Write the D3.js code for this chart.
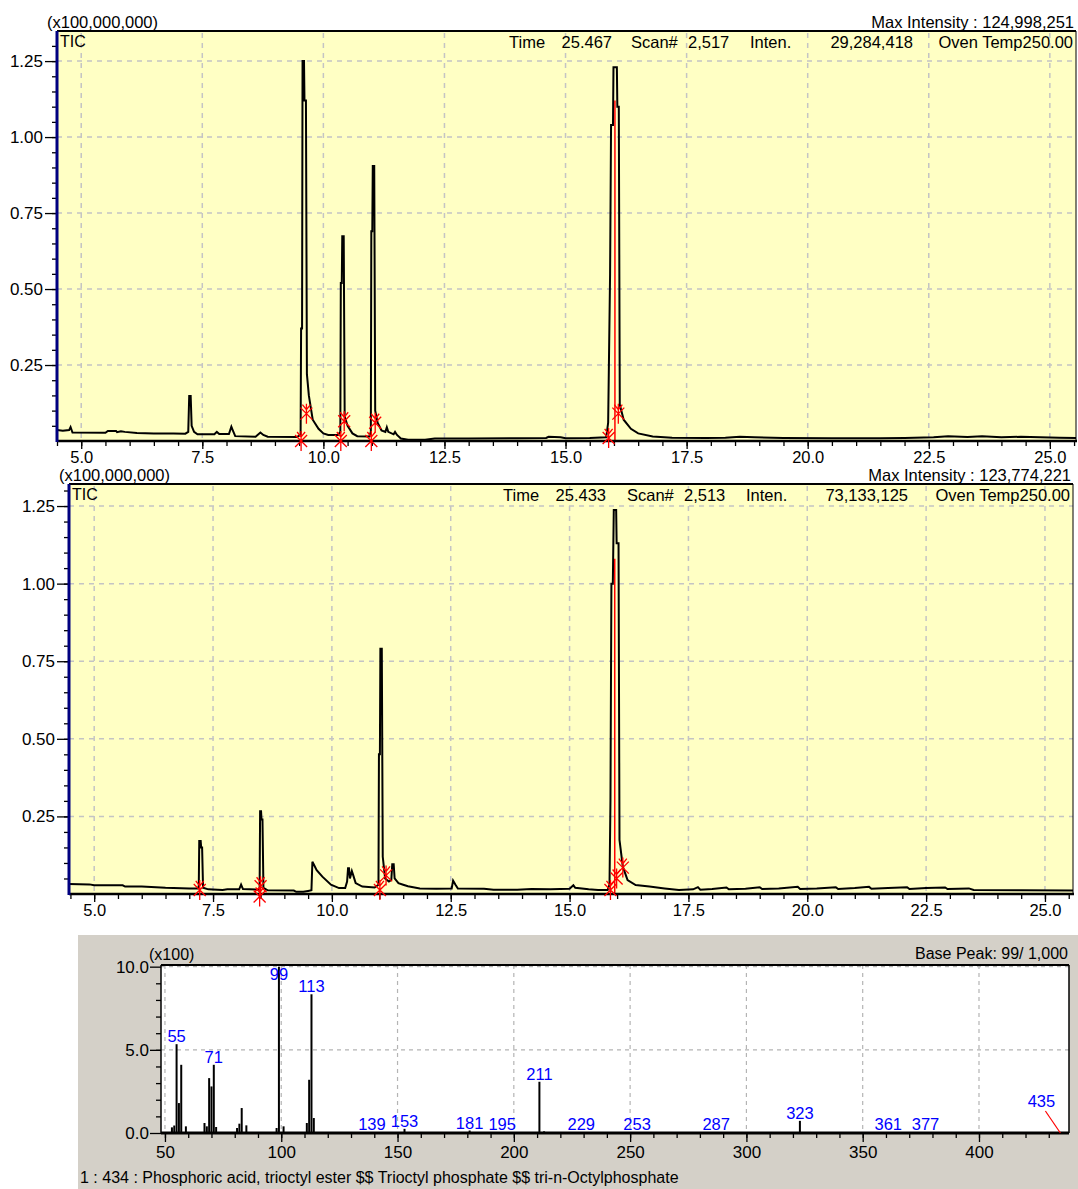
<!DOCTYPE html>
<html>
<head>
<meta charset="utf-8">
<script src="https://cdn.jsdelivr.net/npm/d3@7"></script>
<style>
  body { margin: 0; background: #fff; }
  svg text { font-family: "Liberation Sans", Arial, sans-serif; }
</style>
</head>
<body>
<script>
// ---- chromatogram 1 (time min, intensity x1e8)
const tic1 = [
  [4.50,0.036],[4.62,0.034],[4.75,0.036],[4.78,0.046],[4.82,0.028],[5.50,0.027],[5.55,0.033],[5.72,0.033],
  [5.74,0.029],[5.82,0.032],[5.90,0.030],[6.15,0.026],[6.50,0.025],[6.90,0.025],[7.15,0.024],[7.21,0.030],
  [7.23,0.148],[7.26,0.148],[7.28,0.05],[7.33,0.03],[7.40,0.022],[7.75,0.022],[7.80,0.030],[7.85,0.023],
  [8.05,0.023],[8.10,0.047],[8.13,0.035],[8.18,0.016],[8.60,0.014],[8.70,0.028],[8.76,0.02],[8.85,0.014],
  [9.45,0.013],[9.53,0.020],[9.54,0.37],[9.56,0.37],[9.57,1.25],[9.60,1.25],[9.61,1.12],[9.64,1.12],
  [9.66,0.22],[9.70,0.15],[9.78,0.07],[9.90,0.04],[10.0,0.025],[10.10,0.02],[10.30,0.02],[10.35,0.03],
  [10.36,0.52],[10.38,0.52],[10.39,0.674],[10.42,0.674],[10.44,0.08],[10.50,0.05],[10.60,0.025],[10.70,0.016],
  [10.95,0.015],[10.98,0.03],[10.99,0.69],[11.01,0.69],[11.02,0.905],[11.05,0.905],[11.07,0.10],[11.12,0.06],
  [11.20,0.035],[11.28,0.03],[11.31,0.045],[11.34,0.03],[11.45,0.022],[11.48,0.03],[11.52,0.02],[11.60,0.008],
  [11.75,0.004],[12.1,0.004],[12.3,0.008],[13.0,0.008],[14.0,0.009],[14.6,0.01],[14.65,0.014],[14.9,0.012],
  [15.0,0.009],[15.5,0.01],[15.84,0.012],[15.88,0.06],[15.92,0.55],[15.94,1.04],[15.98,1.04],[15.99,1.23],
  [16.06,1.23],[16.07,1.10],[16.10,1.10],[16.12,0.12],[16.20,0.07],[16.35,0.04],[16.5,0.025],[16.8,0.015],
  [17.2,0.011],[17.9,0.010],[18.3,0.011],[18.6,0.014],[18.9,0.012],[19.5,0.010],[20.5,0.009],[21.5,0.009],
  [22.0,0.010],[22.6,0.012],[22.9,0.016],[23.3,0.013],[23.6,0.016],[24.0,0.012],[24.4,0.014],[24.8,0.012],
  [25.2,0.011],[25.54,0.010]
];
const marks1 = [[9.54,0.0],[9.65,0.09],[10.36,0.0],[10.43,0.065],[10.99,0.0],[11.07,0.06],[15.89,0.01],[16.09,0.09]];
const apex1 = [16.02, 1.12];
const info1 = ["Time","25.467","Scan#","2,517","Inten.","29,284,418","Oven Temp250.00"];
const maxInt1 = "Max Intensity : 124,998,251";

// ---- chromatogram 2
const tic2 = [
  [4.47,0.032],[4.9,0.031],[5.0,0.028],[5.6,0.028],[5.65,0.024],[6.0,0.024],[6.3,0.022],[6.5,0.02],
  [7.0,0.018],[7.18,0.018],[7.20,0.025],[7.21,0.171],[7.24,0.171],[7.25,0.15],[7.27,0.15],[7.29,0.02],
  [7.40,0.015],[7.70,0.013],[7.80,0.015],[8.05,0.015],[8.09,0.03],[8.13,0.016],[8.45,0.014],[8.48,0.02],
  [8.49,0.267],[8.51,0.267],[8.52,0.24],[8.54,0.24],[8.56,0.02],[8.65,0.012],[9.2,0.011],[9.25,0.007],
  [9.4,0.007],[9.5,0.01],[9.57,0.012],[9.59,0.104],[9.62,0.095],[9.68,0.077],[9.80,0.056],[9.98,0.03],
  [10.15,0.019],[10.28,0.019],[10.32,0.04],[10.34,0.083],[10.36,0.083],[10.38,0.05],[10.42,0.074],[10.45,0.06],
  [10.50,0.035],[10.64,0.024],[10.90,0.021],[10.98,0.03],[10.99,0.45],[11.01,0.45],[11.02,0.79],[11.05,0.79],
  [11.07,0.12],[11.12,0.05],[11.20,0.04],[11.25,0.045],[11.27,0.096],[11.30,0.096],[11.32,0.05],[11.40,0.035],
  [11.50,0.03],[11.6,0.025],[11.85,0.018],[12.2,0.017],[12.52,0.018],[12.55,0.043],[12.6,0.03],[12.65,0.018],
  [13.2,0.017],[13.4,0.014],[13.9,0.014],[14.2,0.016],[14.6,0.015],[15.0,0.017],[15.08,0.028],[15.12,0.02],
  [15.4,0.015],[15.6,0.013],[15.80,0.013],[15.84,0.03],[15.86,0.30],[15.88,1.0],[15.91,1.0],[15.93,1.237],
  [15.98,1.237],[15.99,1.13],[16.03,1.13],[16.05,0.174],[16.12,0.088],[16.22,0.045],[16.39,0.029],[16.68,0.024],
  [17.0,0.018],[17.3,0.013],[17.6,0.015],[17.7,0.022],[17.75,0.014],[18.0,0.016],[18.3,0.021],[18.35,0.015],
  [18.7,0.017],[19.0,0.022],[19.05,0.016],[19.4,0.018],[19.8,0.023],[19.85,0.016],[20.2,0.018],[20.6,0.022],
  [20.65,0.016],[21.0,0.019],[21.3,0.023],[21.35,0.017],[21.7,0.019],[22.1,0.022],[22.15,0.016],[22.5,0.019],
  [22.9,0.021],[22.95,0.016],[23.4,0.018],[23.5,0.013],[24.5,0.012],[25.59,0.011]
];
const marks2 = [[7.22,0.013],[8.50,0.025],[8.48,-0.008],[11.01,0.013],[11.14,0.06],[15.86,0.013],[15.99,0.05],[16.12,0.085]];
const apex2 = [15.95, 1.08];
const info2 = ["Time","25.433","Scan#","2,513","Inten.","73,133,125","Oven Temp250.00"];
const maxInt2 = "Max Intensity : 123,774,221";

const chromTicks = [5.0, 7.5, 10.0, 12.5, 15.0, 17.5, 20.0, 22.5, 25.0];
const chromYTicks = [0.25, 0.50, 0.75, 1.00, 1.25];

// ---- mass spectrum (m/z, relative intensity of 1000)
const msMz  = [53, 54, 55, 56, 57, 59, 67, 68, 69, 70, 71, 72, 81, 82, 83, 85, 98, 99, 101, 111, 112, 113, 114,
               139, 153, 181, 195, 211, 213, 229, 253, 287, 323, 361, 377];
const msInt = [34, 45, 534, 180, 410, 40, 60, 40, 330, 280, 410, 36, 30, 56, 150, 46, 30, 1000, 40, 60, 320, 834, 90,
               5, 25, 15, 6, 308, 10, 5, 5, 5, 73, 5, 5];
const msLabels = [55, 71, 99, 113, 139, 153, 181, 195, 211, 229, 253, 287, 323, 361, 377, 435];
const msXTicks = [50, 100, 150, 200, 250, 300, 350, 400];
const msYTicks = [0, 5, 10];
const compound = "1 : 434 : Phosphoric acid, trioctyl ester $$ Trioctyl phosphate $$ tri-n-Octylphosphate";
const basePeak = "Base Peak: 99/ 1,000";

const W = 1078, H = 1189;
const svg = d3.select("body").append("svg").attr("width", W).attr("height", H);

function marker(g, x, y) {
  const p = `M${x},${y-10}L${x},${y+10}M${x-6},${y-6}L${x+6},${y+6}M${x+6},${y-6}L${x-6},${y+6}M${x-4},${y-9}L${x},${y-4}L${x+4},${y-9}`;
  g.append("path").attr("d", p).attr("stroke", "#ff0000").attr("stroke-width", 1.3).attr("fill", "none");
}

function chrom(cfg) {
  const x = d3.scaleLinear().domain(cfg.xDomain).range([cfg.left, cfg.right]);
  const y = d3.scaleLinear().domain(cfg.yDomain).range([cfg.bottom, cfg.top]);
  const g = svg.append("g");

  g.append("rect").attr("x", cfg.left).attr("y", cfg.top)
    .attr("width", cfg.right - cfg.left).attr("height", cfg.bottom - cfg.top).attr("fill", "#ffffc4");

  // grid
  g.selectAll(null).data(chromTicks).enter().append("line")
    .attr("x1", d => x(d)).attr("x2", d => x(d)).attr("y1", cfg.top + 2).attr("y2", cfg.bottom)
    .attr("stroke", "#c4c4c4").attr("stroke-width", 1.5).attr("stroke-dasharray", "5,5");
  g.selectAll(null).data(chromYTicks).enter().append("line")
    .attr("x1", cfg.left).attr("x2", cfg.right).attr("y1", d => y(d)).attr("y2", d => y(d))
    .attr("stroke", "#c4c4c4").attr("stroke-width", 1.5).attr("stroke-dasharray", "5,5");

  // texts
  g.append("text").attr("x", cfg.left - 10).attr("y", cfg.top - 3).attr("font-size", 16.5).text("(x100,000,000)");
  g.append("text").attr("x", cfg.right - 2).attr("y", cfg.top - 3).attr("font-size", 16.5)
    .attr("text-anchor", "end").text(cfg.maxInt);
  g.append("text").attr("x", cfg.left + 3).attr("y", cfg.top + 16).attr("font-size", 16).text("TIC");
  cfg.info.forEach((s, i) => {
    const p = cfg.infoPos[i];
    g.append("text").attr("x", p[0]).attr("y", cfg.top + 17).attr("font-size", 16.5)
      .attr("text-anchor", p[1]).text(s);
  });

  // trace
  const clipId = "clip" + cfg.id;
  svg.append("clipPath").attr("id", clipId).append("rect")
    .attr("x", cfg.left).attr("y", cfg.top).attr("width", cfg.right - cfg.left).attr("height", cfg.bottom - cfg.top + 2);
  const line = d3.line().x(d => x(d[0])).y(d => y(d[1]));
  g.append("path").datum(cfg.trace).attr("d", line).attr("clip-path", `url(#${clipId})`)
    .attr("fill", "none").attr("stroke", "#000").attr("stroke-width", 2).attr("stroke-linejoin", "miter");
  g.append("line").attr("x1", x(cfg.apex[0])).attr("x2", x(cfg.apex[0]))
    .attr("y1", y(0)).attr("y2", y(cfg.apex[1])).attr("stroke", "#ff0000").attr("stroke-width", 1.5);

  // axes
  const minorX = d3.range(9, 52).map(i => i / 2).filter(d => d >= cfg.xDomain[0] && d <= cfg.xDomain[1]);
  g.append("g").attr("transform", `translate(0,${cfg.bottom})`)
    .call(d3.axisBottom(x).tickValues(minorX).tickSize(5).tickFormat(""))
    .call(a => a.select(".domain").remove());
  g.append("g").attr("transform", `translate(0,${cfg.bottom})`)
    .call(d3.axisBottom(x).tickValues(chromTicks).tickSize(8).tickPadding(2).tickFormat(d3.format(".1f")))
    .call(a => a.select(".domain").remove())
    .call(a => a.selectAll("text").attr("font-size", 16.5).attr("fill", "#000").attr("font-family", "Liberation Sans, Arial"));
  const minorY = d3.range(1, 27).map(i => i * 0.05);
  g.append("g").attr("transform", `translate(${cfg.left},0)`)
    .call(d3.axisLeft(y).tickValues(minorY).tickSize(5).tickFormat(""))
    .call(a => a.select(".domain").remove());
  g.append("g").attr("transform", `translate(${cfg.left},0)`)
    .call(d3.axisLeft(y).tickValues(chromYTicks).tickSize(12).tickPadding(2).tickFormat(d3.format(".2f")))
    .call(a => a.select(".domain").remove())
    .call(a => a.selectAll("text").attr("font-size", 17).attr("fill", "#000").attr("font-family", "Liberation Sans, Arial"));
  g.selectAll(".tick line").attr("stroke", "#000").attr("stroke-width", 1.3);

  // frame
  g.append("line").attr("x1", cfg.left).attr("x2", cfg.right).attr("y1", cfg.top).attr("y2", cfg.top)
    .attr("stroke", "#000").attr("stroke-width", 2);
  g.append("line").attr("x1", cfg.right).attr("x2", cfg.right).attr("y1", cfg.top).attr("y2", cfg.bottom)
    .attr("stroke", "#000").attr("stroke-width", 1);
  g.append("line").attr("x1", cfg.left).attr("x2", cfg.right + 1).attr("y1", cfg.bottom).attr("y2", cfg.bottom)
    .attr("stroke", "#000").attr("stroke-width", 2.5);
  g.append("line").attr("x1", cfg.left).attr("x2", cfg.left).attr("y1", cfg.top).attr("y2", cfg.bottom + 1)
    .attr("stroke", "#000080").attr("stroke-width", 3);

  cfg.marks.forEach(m => marker(g, x(m[0]), y(m[1])));
}

chrom({
  id: 1, left: 57, right: 1076, top: 31, bottom: 441, xDomain: [4.5, 25.54], yDomain: [0, 1.349],
  trace: tic1, marks: marks1, apex: apex1, info: info1, maxInt: maxInt1,
  infoPos: [[509,"start"],[612,"end"],[631,"start"],[688,"start"],[750,"start"],[913,"end"],[1073,"end"]]
});
chrom({
  id: 2, left: 69, right: 1073, top: 484, bottom: 894, xDomain: [4.47, 25.59], yDomain: [0, 1.321],
  trace: tic2, marks: marks2, apex: apex2, info: info2, maxInt: maxInt2,
  infoPos: [[503,"start"],[606,"end"],[627,"start"],[684,"start"],[746,"start"],[908,"end"],[1070,"end"]]
});

// ---- mass spectrum panel
const ms = { left: 161, right: 1069, top: 965, bottom: 1133 };
svg.append("rect").attr("x", 78).attr("y", 935).attr("width", W - 78).attr("height", H - 935).attr("fill", "#d4d0c8");
svg.append("rect").attr("x", ms.left).attr("y", ms.top).attr("width", ms.right - ms.left)
  .attr("height", ms.bottom - ms.top).attr("fill", "#fff");
const mx = d3.scaleLinear().domain([48.3, 438.7]).range([ms.left, ms.right]);
const my = d3.scaleLinear().domain([0, 10.1]).range([ms.bottom, ms.top]);
const mg = svg.append("g");

mg.selectAll(null).data(msXTicks).enter().append("line")
  .attr("x1", d => mx(d)).attr("x2", d => mx(d)).attr("y1", ms.top).attr("y2", ms.bottom)
  .attr("stroke", "#b4b4b4").attr("stroke-width", 1.2).attr("stroke-dasharray", "4,4");
mg.selectAll(null).data([5, 10]).enter().append("line")
  .attr("x1", ms.left).attr("x2", ms.right).attr("y1", d => my(d)).attr("y2", d => my(d))
  .attr("stroke", "#b4b4b4").attr("stroke-width", 1.2).attr("stroke-dasharray", "4,4");

mg.selectAll(null).data(msMz).enter().append("line")
  .attr("x1", d => mx(d)).attr("x2", d => mx(d)).attr("y1", my(0))
  .attr("y2", (d, i) => my(msInt[i] / 100)).attr("stroke", "#000").attr("stroke-width", 2);

mg.append("g").attr("transform", `translate(0,${ms.bottom})`)
  .call(d3.axisBottom(mx).tickValues(d3.range(50, 440, 10)).tickSize(5).tickFormat(""))
  .call(a => a.select(".domain").remove());
mg.append("g").attr("transform", `translate(0,${ms.bottom})`)
  .call(d3.axisBottom(mx).tickValues(msXTicks).tickSize(9).tickPadding(4))
  .call(a => a.select(".domain").remove())
  .call(a => a.selectAll("text").attr("font-size", 17).attr("fill", "#000").attr("font-family", "Liberation Sans, Arial"));
mg.append("g").attr("transform", `translate(${ms.left},0)`)
  .call(d3.axisLeft(my).tickValues(d3.range(1, 10)).tickSize(5).tickFormat(""))
  .call(a => a.select(".domain").remove());
mg.append("g").attr("transform", `translate(${ms.left},0)`)
  .call(d3.axisLeft(my).tickValues(msYTicks).tickSize(11).tickPadding(1).tickFormat(d3.format(".1f")))
  .call(a => a.select(".domain").remove())
  .call(a => a.selectAll("text").attr("font-size", 17).attr("fill", "#000").attr("font-family", "Liberation Sans, Arial"));
mg.selectAll(".tick line").attr("stroke", "#000").attr("stroke-width", 1.3);

mg.append("line").attr("x1", ms.left).attr("x2", ms.right).attr("y1", ms.top).attr("y2", ms.top)
  .attr("stroke", "#000").attr("stroke-width", 2);
mg.append("line").attr("x1", ms.right).attr("x2", ms.right).attr("y1", ms.top).attr("y2", ms.bottom)
  .attr("stroke", "#000").attr("stroke-width", 1.5);
mg.append("line").attr("x1", ms.left).attr("x2", ms.left).attr("y1", ms.top).attr("y2", ms.bottom)
  .attr("stroke", "#000").attr("stroke-width", 1.5);
mg.append("line").attr("x1", ms.left).attr("x2", ms.right).attr("y1", ms.bottom).attr("y2", ms.bottom)
  .attr("stroke", "#000").attr("stroke-width", 3);

// peak labels
const labelShift = { 435: [-19, -24] };
msLabels.forEach(m => {
  const i = msMz.indexOf(m);
  const v = i >= 0 ? msInt[i] / 100 : 0;
  const sh = labelShift[m] || [0, 0];
  const lx = mx(m) + sh[0];
  const ly = Math.max(my(v) - 2, ms.top + 15) + sh[1];
  if (labelShift[m]) {
    mg.append("line").attr("x1", lx + 4).attr("y1", ly + 4).attr("x2", mx(m)).attr("y2", my(0))
      .attr("stroke", "#ff0000").attr("stroke-width", 1.2);
  }
  mg.append("text").attr("x", lx).attr("y", ly).attr("text-anchor", "middle")
    .attr("font-size", 16.5).attr("fill", "#0000ff").text(m);
});

mg.append("text").attr("x", ms.left - 12).attr("y", ms.top - 5).attr("font-size", 16).text("(x100)");
mg.append("text").attr("x", ms.right - 1).attr("y", ms.top - 6).attr("font-size", 16)
  .attr("text-anchor", "end").text(basePeak);
mg.append("text").attr("x", 80).attr("y", 1183).attr("font-size", 16).text(compound);
</script>
</body>
</html>
